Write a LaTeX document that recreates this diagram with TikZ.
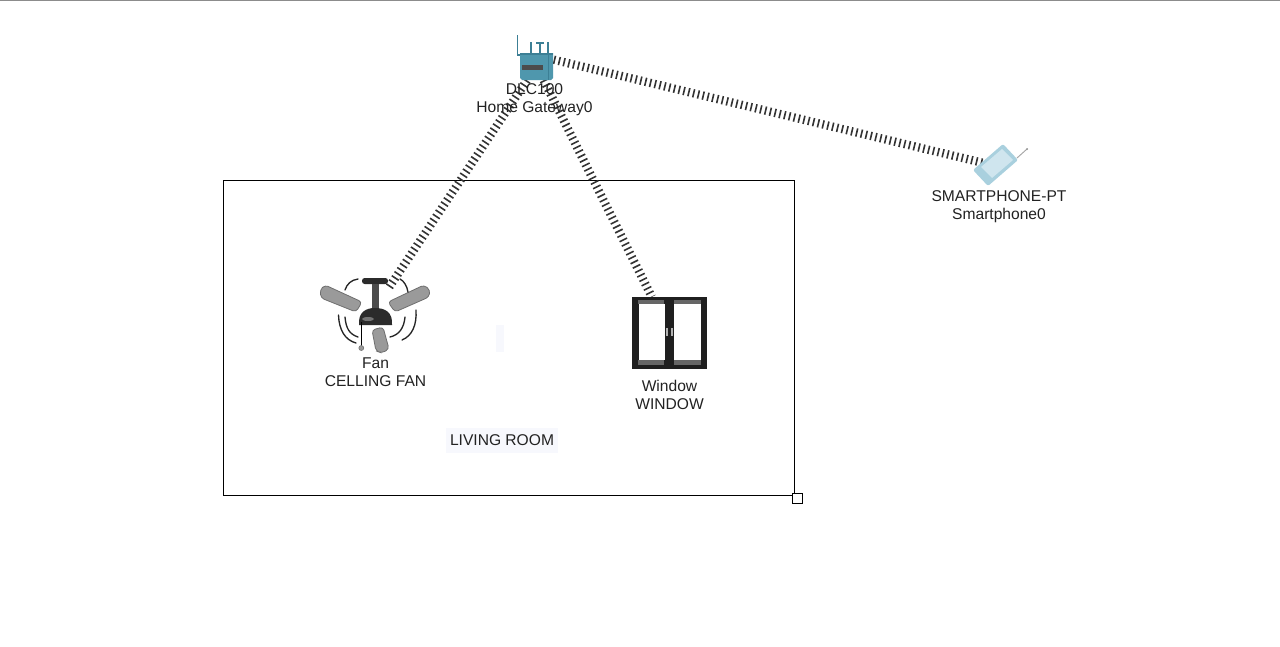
\documentclass[tikz,border=0pt]{standalone}
\usepackage{fontspec}
\setmainfont{Liberation Sans}
\usetikzlibrary{backgrounds}
\definecolor{labelink}{HTML}{222222}
\definecolor{teal1}{HTML}{4F97AD}
\definecolor{teal2}{HTML}{3C7F95}
\definecolor{blade}{HTML}{9A9A9A}
\definecolor{bladeedge}{HTML}{6E6E6E}
\definecolor{fandark}{HTML}{2B2B2B}
\definecolor{phonebody}{HTML}{A9D0DE}
\definecolor{phonescreen}{HTML}{CFE5EE}
\definecolor{faintbg}{HTML}{F7F8FD}
\tikzset{
  lab/.style={align=center,text=labelink,font=\fontsize{11.7}{13.5}\selectfont,inner sep=0pt},
  wireless/.style={line width=6.3pt,dash pattern=on 1.2pt off 2.5pt,draw=black!80},
  hook/.style={inner sep=0pt,draw=none},
  bladeshape/.style={fill=blade,draw=bladeedge,line width=.6pt,rounded corners=2.5pt},
  swing/.style={draw=black!85,line width=1pt,line cap=round},
  aerial/.style={draw=teal2,line width=.8pt},
}
\begin{document}
\begin{tikzpicture}[x=0.75pt,y=-0.75pt]
\useasboundingbox (0,0) rectangle (1280,646);

% anchor nodes for the devices
\node[hook,minimum width=25.5pt,minimum height=21pt] (gw) at (536.5,66) {};
\node[hook,minimum width=82pt,minimum height=37pt] (fan) at (372,313) {};
\node[hook,minimum width=56pt,minimum height=53pt] (win) at (669.5,332.5) {};
\node[hook,minimum width=29pt,minimum height=16pt,rotate=40] (phone) at (996,166) {};

\begin{scope}[on background layer]
  \fill[white] (0,0) rectangle (1280,646);
  \draw[draw=black!45,line width=.8pt] (0,0.4) -- (1280,0.4);
  \node[fill=faintbg,minimum width=6pt,minimum height=20pt,inner sep=0pt] (faintmark) at (500,338.5) {};
  \node[draw=black,line width=.75pt,minimum width=428.25pt,minimum height=236.25pt,inner sep=0pt] (room) at (508.5,337.5) {};
  \node[draw=black,fill=white,line width=.75pt,minimum width=7.5pt,minimum height=7.5pt,inner sep=0pt] (grip) at (797.5,498) {};
  \draw[wireless] (gw) -- (fan);
  \draw[wireless] (gw) -- (win);
  \draw[wireless] (gw.20) -- (phone);
\end{scope}

% gateway icon
\draw[aerial] (517.5,35) -- (517.5,55) -- (521,55);
\draw[aerial] (531,42) -- (531,53);
\draw[aerial] (548,42) -- (548,53);
\draw[aerial] (540,43) -- (540,53) (536,43) -- (544,43);
\fill[teal1] (520,53) -- (553,53) -- (553,78) -- (551,80) -- (522,80) -- (520,78) -- cycle;
\fill[black!70] (522,65) rectangle (543,70);
\fill[teal2] (520,53) rectangle (553,55);
\fill[teal2] (548,55) rectangle (549,80);

% fan icon
\draw[bladeshape] (325,285) -- (362,302) -- (356,312) -- (321,298) -- (320,290) -- cycle;
\draw[bladeshape] (424,285) -- (388,302) -- (395,312) -- (429,297) -- (430,290) -- cycle;
\draw[bladeshape] (372,330) -- (383,327) -- (389,349) -- (382,353) -- (376,351) -- cycle;
\fill[fandark,rounded corners=2pt] (362,278) rectangle (388,284);
\fill[black!70] (372,284) rectangle (378.5,310);
\fill[fandark] (359,325) .. controls (358,312) and (366,308) .. (375,308) .. controls (385,308) and (393,312) .. (392,325) -- cycle;
\fill[black!55] (368,319) ellipse [x radius=6,y radius=2];
\draw[black,line width=1.2pt] (361.5,322) -- (361.5,346);
\draw[fill=blade,draw=bladeedge,line width=.4pt] (361.3,348) circle [radius=2.5];
\draw[swing] (345,290) .. controls (347,284) and (351,280) .. (358,279);
\draw[swing] (400,279) .. controls (404,281) and (407,286) .. (408,292);
\draw[swing] (345,317) .. controls (346,328) and (349,334) .. (358,337);
\draw[swing] (338.5,315) .. controls (339,330) and (345,340) .. (356,343);
\draw[swing] (405,317) .. controls (404,328) and (399,335) .. (390,337);
\draw[swing] (416,310) .. controls (417,325) and (412,336) .. (402,340);

% window icon
\fill[black!88] (632,297) rectangle (707,368.5);
\fill[black!60] (638,300) rectangle (664,304);
\fill[black!60] (674,300) rectangle (701,304);
\fill[black!60] (638,360) rectangle (664,365);
\fill[black!60] (674,360) rectangle (701,365);
\fill[white] (638.5,304) rectangle (664.5,360);
\fill[white] (674,304) rectangle (701,360);
\fill[black!30] (666.3,328) rectangle (668,336);
\fill[black!30] (671,328) rectangle (672.7,336);

% phone icon
\fill[phonebody,rounded corners=1.5pt] (1003,144) -- (1018,160) -- (988,186) -- (973,170) -- cycle;
\fill[phonescreen] (1002,149) -- (1013,160) -- (992,178) -- (981,167) -- cycle;
\draw[draw=black!35,line width=.7pt] (1017,158) -- (1027,149);
\fill[black!45] (1027,149) circle [radius=1];

% labels
\node[lab] (gwlabel) at (534.5,100) {DLC100\\Home Gateway0};
\node[lab] (fanlabel) at (375.5,372) {Fan\\CELLING FAN};
\node[lab] (winlabel) at (669.5,395) {Window\\WINDOW};
\node[lab] (phonelabel) at (999,207) {SMARTPHONE-PT\\Smartphone0};
\node[lab,fill=faintbg,minimum width=84pt,minimum height=19pt] (roomlabel) at (502,440.5) {LIVING ROOM};
\end{tikzpicture}
\end{document}
